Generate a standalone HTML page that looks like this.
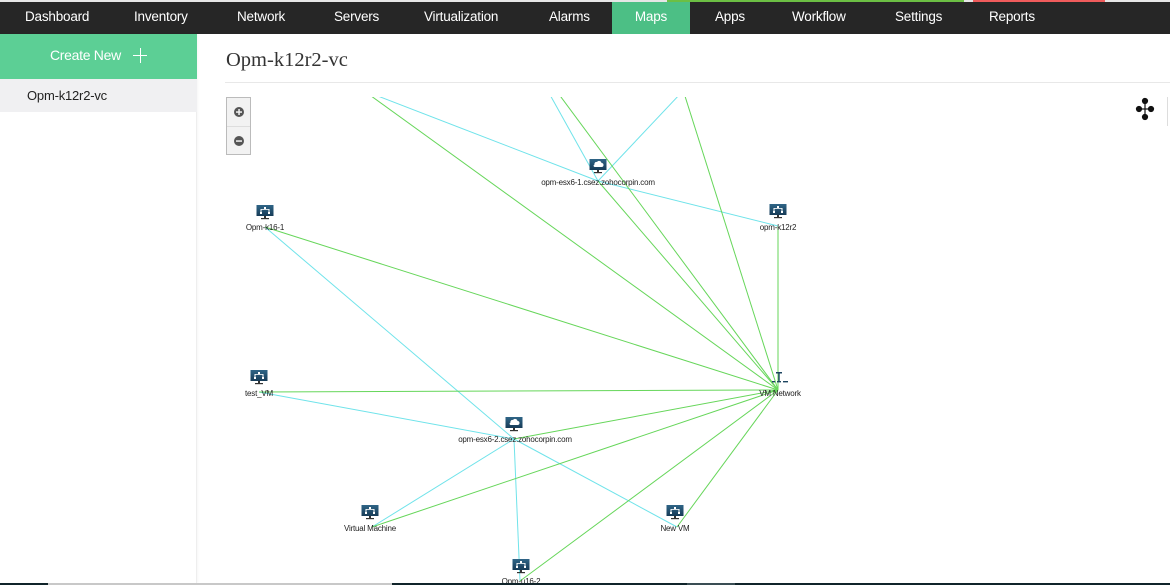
<!DOCTYPE html>
<html><head><meta charset="utf-8"><style>
*{margin:0;padding:0;box-sizing:border-box}
body{width:1170px;height:585px;overflow:hidden;background:#fff;font-family:"Liberation Sans",sans-serif;position:relative}
.strip{position:absolute;left:0;top:0;width:1170px;height:2px;background:#e6e6e6}
.nav{position:absolute;left:0;top:2px;width:1170px;height:32px;background:#262626}
.nav span{position:absolute;top:0;height:32px;line-height:30px;color:#fff;font-size:13.5px;letter-spacing:-0.2px}
.nav .act{background:#4cbf85;}
.side{position:absolute;left:0;top:34px;width:197px;height:549px;background:#fff;border-right:1px solid #eeeeee;box-shadow:1px 0 2px rgba(0,0,0,0.04)}
.create{position:absolute;left:0;top:0;width:197px;height:45px;background:#5ccf95;color:#fff;font-size:14px;letter-spacing:-0.3px}
.item{position:absolute;left:0;top:45px;width:197px;height:33px;background:#f0f0f2;color:#222;font-size:13px;line-height:33px;padding-left:27px;letter-spacing:-0.2px}
.title{position:absolute;left:226px;top:49px;font-family:"Liberation Serif",serif;font-size:20.5px;color:#333}
.hr{position:absolute;left:225px;top:82px;width:945px;height:1px;background:#e8e8e8}
.zoom{position:absolute;left:226px;top:97px;width:25px;height:58px;border:1px solid #bbb;background:#f2f2f2}
.zoom .div{position:absolute;left:0;top:28px;width:23px;height:1px;background:#ddd}
.task{position:absolute;left:0;top:583px;width:1170px;height:2px;background:#10242a}
</style></head><body>
<div class="strip"><div style="position:absolute;left:667px;width:297px;height:2px;background:#6cbf44"></div><div style="position:absolute;left:973px;width:132px;height:2px;background:#ef5b5b"></div></div>
<div class="nav">
<span style="left:25px">Dashboard</span>
<span style="left:134px">Inventory</span>
<span style="left:237px">Network</span>
<span style="left:334px">Servers</span>
<span style="left:424px">Virtualization</span>
<span style="left:549px">Alarms</span>
<span class="act" style="left:612px;width:78px;text-align:center">Maps</span>
<span style="left:715px">Apps</span>
<span style="left:792px">Workflow</span>
<span style="left:895px">Settings</span>
<span style="left:989px">Reports</span>
</div>
<div class="side">
<div class="create"><span style="position:absolute;left:50px;top:13px">Create New</span>
<span style="position:absolute;left:133px;top:21px;width:14px;height:1px;background:#fff"></span>
<span style="position:absolute;left:140px;top:14px;width:1px;height:15px;background:#fff"></span></div>
<div class="item">Opm-k12r2-vc</div>
</div>
<div class="title">Opm-k12r2-vc</div>
<div class="hr"></div>
<div class="zoom"><div class="div"></div></div>

<svg style="position:absolute;left:0;top:0" width="1170" height="585" xmlns="http://www.w3.org/2000/svg">
<defs>
<clipPath id="c"><rect x="200" y="97" width="970" height="486"/></clipPath>
<linearGradient id="g" x1="0" y1="0" x2="0" y2="1"><stop offset="0" stop-color="#2f6587"/><stop offset="1" stop-color="#173b57"/></linearGradient>
</defs>
<g clip-path="url(#c)" stroke-width="1" fill="none">
<g stroke="#6fe3ea">
<line x1="370" y1="93" x2="598" y2="181"/>
<line x1="549" y1="93" x2="598" y2="181"/>
<line x1="681" y1="93" x2="598" y2="181"/>
<line x1="598" y1="181" x2="778" y2="226"/>
<line x1="265" y1="227" x2="514" y2="439"/>
<line x1="259" y1="392" x2="514" y2="439"/>
<line x1="514" y1="439" x2="372" y2="527"/>
<line x1="514" y1="439" x2="677" y2="527"/>
<line x1="514" y1="439" x2="520" y2="581"/>
</g>
<g stroke="#66d65a">
<line x1="367" y1="93" x2="778" y2="390"/>
<line x1="558" y1="93" x2="778" y2="390"/>
<line x1="684" y1="93" x2="778" y2="390"/>
<line x1="598" y1="181" x2="778" y2="390"/>
<line x1="778" y1="226" x2="778" y2="390"/>
<line x1="265" y1="227" x2="778" y2="390"/>
<line x1="259" y1="392" x2="778" y2="390"/>
<line x1="514" y1="439" x2="778" y2="390"/>
<line x1="372" y1="527" x2="778" y2="390"/>
<line x1="677" y1="527" x2="778" y2="390"/>
<line x1="520" y1="581" x2="778" y2="390"/>
</g>
</g>

<circle cx="239" cy="112" r="5" fill="#555"/><rect x="236" y="111.3" width="6" height="1.5" fill="#f2f2f2"/><rect x="238.3" y="109" width="1.5" height="6" fill="#f2f2f2"/>
<circle cx="239" cy="141" r="5" fill="#555"/><rect x="236" y="140.3" width="6" height="1.5" fill="#f2f2f2"/>

<g fill="#111" stroke="#111" stroke-width="1.2">
<line x1="1139" y1="109" x2="1151" y2="109"/>
<line x1="1145" y1="101" x2="1145" y2="117"/>
<circle cx="1145" cy="101" r="2.5"/><circle cx="1139" cy="109" r="2.5"/><circle cx="1151" cy="109" r="2.5"/><circle cx="1145" cy="117" r="2.5"/>
</g>
<rect x="1167" y="97" width="1" height="29" fill="#ddd"/>

<g transform="translate(598,181)"><rect x="-8.5" y="-22" width="17" height="11" fill="url(#g)"/><rect x="-1" y="-11" width="2" height="2" fill="#333"/><rect x="-4" y="-9" width="8" height="1.2" fill="#333"/><path d="M-3.5,-14 h7 a2,2 0 0,0 0,-4 a2.5,2.5 0 0,0 -4.5,-1 a2,2 0 0,0 -2.5,2.5 a1.3,1.3 0 0,0 0,2.5z" fill="#fff"/></g>
<g transform="translate(514,439)"><rect x="-8.5" y="-22" width="17" height="11" fill="url(#g)"/><rect x="-1" y="-11" width="2" height="2" fill="#333"/><rect x="-4" y="-9" width="8" height="1.2" fill="#333"/><path d="M-3.5,-14 h7 a2,2 0 0,0 0,-4 a2.5,2.5 0 0,0 -4.5,-1 a2,2 0 0,0 -2.5,2.5 a1.3,1.3 0 0,0 0,2.5z" fill="#fff"/></g>
<g fill="#fff">
<g transform="translate(265,227)"><rect x="-8.5" y="-22" width="17" height="11" fill="url(#g)"/><rect x="-1" y="-11" width="2" height="2" fill="#333"/><rect x="-4" y="-9" width="8" height="1.2" fill="#333"/><rect x="-1" y="-20" width="2" height="2"/><rect x="-4" y="-18" width="8" height="0.8"/><rect x="-4.5" y="-18" width="1" height="3"/><rect x="3.5" y="-18" width="1" height="3"/><rect x="-5" y="-15" width="2" height="2"/><rect x="3" y="-15" width="2" height="2"/></g>
<g transform="translate(778,226)"><rect x="-8.5" y="-22" width="17" height="11" fill="url(#g)"/><rect x="-1" y="-11" width="2" height="2" fill="#333"/><rect x="-4" y="-9" width="8" height="1.2" fill="#333"/><rect x="-1" y="-20" width="2" height="2"/><rect x="-4" y="-18" width="8" height="0.8"/><rect x="-4.5" y="-18" width="1" height="3"/><rect x="3.5" y="-18" width="1" height="3"/><rect x="-5" y="-15" width="2" height="2"/><rect x="3" y="-15" width="2" height="2"/></g>
<g transform="translate(259,392)"><rect x="-8.5" y="-22" width="17" height="11" fill="url(#g)"/><rect x="-1" y="-11" width="2" height="2" fill="#333"/><rect x="-4" y="-9" width="8" height="1.2" fill="#333"/><rect x="-1" y="-20" width="2" height="2"/><rect x="-4" y="-18" width="8" height="0.8"/><rect x="-4.5" y="-18" width="1" height="3"/><rect x="3.5" y="-18" width="1" height="3"/><rect x="-5" y="-15" width="2" height="2"/><rect x="3" y="-15" width="2" height="2"/></g>
<g transform="translate(370,527)"><rect x="-8.5" y="-22" width="17" height="11" fill="url(#g)"/><rect x="-1" y="-11" width="2" height="2" fill="#333"/><rect x="-4" y="-9" width="8" height="1.2" fill="#333"/><rect x="-1" y="-20" width="2" height="2"/><rect x="-4" y="-18" width="8" height="0.8"/><rect x="-4.5" y="-18" width="1" height="3"/><rect x="3.5" y="-18" width="1" height="3"/><rect x="-5" y="-15" width="2" height="2"/><rect x="3" y="-15" width="2" height="2"/></g>
<g transform="translate(675,527)"><rect x="-8.5" y="-22" width="17" height="11" fill="url(#g)"/><rect x="-1" y="-11" width="2" height="2" fill="#333"/><rect x="-4" y="-9" width="8" height="1.2" fill="#333"/><rect x="-1" y="-20" width="2" height="2"/><rect x="-4" y="-18" width="8" height="0.8"/><rect x="-4.5" y="-18" width="1" height="3"/><rect x="3.5" y="-18" width="1" height="3"/><rect x="-5" y="-15" width="2" height="2"/><rect x="3" y="-15" width="2" height="2"/></g>
<g transform="translate(521,581)"><rect x="-8.5" y="-22" width="17" height="11" fill="url(#g)"/><rect x="-1" y="-11" width="2" height="2" fill="#333"/><rect x="-4" y="-9" width="8" height="1.2" fill="#333"/><rect x="-1" y="-20" width="2" height="2"/><rect x="-4" y="-18" width="8" height="0.8"/><rect x="-4.5" y="-18" width="1" height="3"/><rect x="3.5" y="-18" width="1" height="3"/><rect x="-5" y="-15" width="2" height="2"/><rect x="3" y="-15" width="2" height="2"/></g>
</g>
<g fill="#1d4560"><rect x="776" y="372" width="6" height="1.5"/><rect x="778.3" y="372" width="1.4" height="9"/><rect x="772" y="381" width="3" height="1.4"/><rect x="777" y="381" width="4" height="1.4"/><rect x="783" y="381" width="5" height="1.4"/></g>
<g font-family="Liberation Sans, sans-serif" font-size="8" fill="#222" text-anchor="middle" letter-spacing="-0.2">
<text x="598" y="185">opm-esx6-1.csez.zohocorpin.com</text>
<text x="265" y="230">Opm-k16-1</text>
<text x="778" y="230">opm-k12r2</text>
<text x="259" y="396">test_VM</text>
<text x="780" y="396">VM Network</text>
<text x="515" y="442">opm-esx6-2.csez.zohocorpin.com</text>
<text x="370" y="531">Virtual Machine</text>
<text x="675" y="531">New VM</text>
<text x="521" y="584">Opm-u16-2</text>
</g>
</svg>

<div class="task"><div style="position:absolute;left:48px;width:344px;height:2px;background:#c8c8c8"></div><div style="position:absolute;left:687px;width:48px;height:2px;background:#3a4e54"></div></div>
</body></html>
